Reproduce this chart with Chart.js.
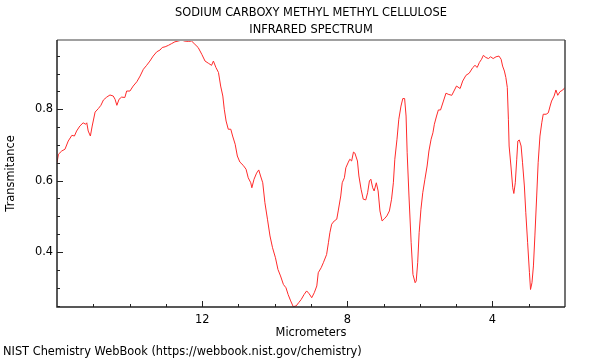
<!DOCTYPE html>
<html>
<head>
<meta charset="utf-8">
<script src="https://cdn.jsdelivr.net/npm/chart.js@4"></script>
<style>
  html, body { margin: 0; padding: 0; background: #fff; }
  #wrap { width: 600px; height: 360px; }
</style>
</head>
<body>
<div id="wrap"><canvas id="irChart" width="600" height="360"></canvas></div>
<script>
// wavelength in micrometers (left to right)
const wavelength = [
  16.00, 15.96, 15.87, 15.78, 15.69, 15.59, 15.52, 15.46, 15.37, 15.28,
  15.21, 15.18, 15.14, 15.08, 15.03, 14.95, 14.86, 14.79, 14.72, 14.63,
  14.54, 14.45, 14.40, 14.35, 14.29, 14.22, 14.13, 14.08, 13.99, 13.90,
  13.80, 13.71, 13.62, 13.53, 13.44, 13.35, 13.25, 13.16, 13.10, 13.02,
  12.93, 12.84, 12.75, 12.66, 12.56, 12.49, 12.38, 12.29, 12.20, 12.11,
  12.01, 11.92, 11.83, 11.74, 11.69, 11.62, 11.55, 11.49, 11.43, 11.39,
  11.34, 11.28, 11.21, 11.16, 11.09, 11.03, 10.96, 10.87, 10.79, 10.73,
  10.66, 10.63, 10.57, 10.50, 10.44, 10.39, 10.33, 10.27, 10.20, 10.13,
  10.06, 9.98, 9.91, 9.84, 9.76, 9.69, 9.63, 9.56, 9.49, 9.41,
  9.34, 9.27, 9.19, 9.12, 9.05, 8.98, 8.91, 8.84, 8.80, 8.72,
  8.66, 8.57, 8.52, 8.48, 8.43, 8.36, 8.29, 8.25, 8.18, 8.14,
  8.08, 8.04, 7.97, 7.93, 7.88, 7.83, 7.79, 7.72, 7.68, 7.62,
  7.56, 7.49, 7.44, 7.39, 7.35, 7.30, 7.26, 7.20, 7.15, 7.10,
  7.04, 6.98, 6.91, 6.84, 6.78, 6.73, 6.69, 6.63, 6.58, 6.52,
  6.47, 6.42, 6.38, 6.35, 6.30, 6.24, 6.19, 6.13, 6.10, 6.06,
  6.02, 5.97, 5.92, 5.86, 5.80, 5.75, 5.69, 5.64, 5.60, 5.54,
  5.49, 5.43, 5.35, 5.28, 5.22, 5.12, 5.06, 4.99, 4.89, 4.82,
  4.73, 4.64, 4.54, 4.48, 4.42, 4.36, 4.30, 4.25, 4.18, 4.11,
  4.05, 3.98, 3.90, 3.82, 3.76, 3.72, 3.67, 3.63, 3.59, 3.56,
  3.54, 3.49, 3.44, 3.41, 3.37, 3.33, 3.30, 3.26, 3.21, 3.17,
  3.12, 3.08, 3.03, 2.98, 2.95, 2.91, 2.87, 2.83, 2.78, 2.74,
  2.69, 2.64, 2.60, 2.52, 2.46, 2.41, 2.37, 2.30, 2.25, 2.20,
  2.14, 2.06, 2.00
];
const transmittance = [
  0.650, 0.674, 0.683, 0.688, 0.711, 0.727, 0.725, 0.739, 0.753, 0.762,
  0.758, 0.762, 0.739, 0.725, 0.753, 0.792, 0.802, 0.811, 0.826, 0.834,
  0.840, 0.837, 0.828, 0.811, 0.828, 0.834, 0.833, 0.851, 0.851, 0.865,
  0.877, 0.893, 0.912, 0.923, 0.935, 0.949, 0.961, 0.966, 0.973, 0.975,
  0.979, 0.984, 0.989, 0.991, 0.994, 0.991, 0.990, 0.991, 0.982, 0.973,
  0.954, 0.935, 0.929, 0.923, 0.935, 0.917, 0.903, 0.865, 0.837, 0.800,
  0.767, 0.744, 0.744, 0.725, 0.702, 0.669, 0.652, 0.643, 0.632, 0.608,
  0.594, 0.580, 0.604, 0.621, 0.630, 0.613, 0.594, 0.538, 0.492, 0.445,
  0.412, 0.384, 0.351, 0.333, 0.309, 0.300, 0.281, 0.263, 0.247, 0.249,
  0.258, 0.267, 0.281, 0.291, 0.283, 0.272, 0.286, 0.305, 0.342, 0.356,
  0.370, 0.393, 0.426, 0.454, 0.478, 0.487, 0.492, 0.515, 0.557, 0.594,
  0.608, 0.636, 0.652, 0.660, 0.655, 0.680, 0.677, 0.655, 0.613, 0.576,
  0.548, 0.546, 0.566, 0.599, 0.604, 0.580, 0.571, 0.594, 0.571, 0.515,
  0.487, 0.493, 0.501, 0.515, 0.548, 0.594, 0.660, 0.716, 0.772, 0.809,
  0.830, 0.830, 0.781, 0.678, 0.557, 0.426, 0.337, 0.314, 0.319, 0.370,
  0.454, 0.520, 0.566, 0.604, 0.641, 0.683, 0.716, 0.734, 0.758, 0.781,
  0.798, 0.798, 0.823, 0.845, 0.842, 0.839, 0.851, 0.865, 0.858, 0.879,
  0.895, 0.901, 0.917, 0.923, 0.917, 0.931, 0.940, 0.951, 0.945, 0.942,
  0.947, 0.942, 0.947, 0.949, 0.940, 0.921, 0.907, 0.889, 0.861, 0.772,
  0.697, 0.641, 0.580, 0.564, 0.594, 0.660, 0.711, 0.714, 0.697, 0.650,
  0.585, 0.510, 0.426, 0.342, 0.295, 0.314, 0.361, 0.445, 0.557, 0.650,
  0.725, 0.762, 0.786, 0.786, 0.790, 0.809, 0.823, 0.837, 0.854, 0.839,
  0.849, 0.854, 0.861
];

const xTicks = [4, 8, 12];
const yTicks = [0.4, 0.6, 0.8];
const titleLines = ['SODIUM CARBOXY METHYL METHYL CELLULOSE', 'INFRARED SPECTRUM'];
const footerText = 'NIST Chemistry WebBook (https://webbook.nist.gov/chemistry)';

const FONT = '"DejaVu Sans", sans-serif';
const FSIZE = 11.4;

// frame, inward ticks, title and footer
const decorations = {
  id: 'decorations',
  afterDraw(chart) {
    const ctx = chart.ctx;
    const a = chart.chartArea;
    const xs = chart.scales.x, ys = chart.scales.y;
    ctx.save();

    ctx.strokeStyle = '#222';
    ctx.lineWidth = 1;
    ctx.beginPath();
    for (let v = 3; v <= 15; v++) {
      const px = Math.round(xs.getPixelForValue(v)) + 0.5;
      const len = (v % 4 === 0) ? 6 : 3;
      ctx.moveTo(px, a.bottom);
      ctx.lineTo(px, a.bottom - len);
    }
    for (let i = 5; i <= 19; i++) {
      const v = i * 0.05;
      const py = Math.round(ys.getPixelForValue(v)) + 0.5;
      const len = (i % 4 === 0) ? 6 : 3;
      ctx.moveTo(a.left, py);
      ctx.lineTo(a.left + len, py);
    }
    ctx.stroke();

    ctx.strokeStyle = '#a0a0a0';
    ctx.lineWidth = 2;
    ctx.beginPath();
    ctx.moveTo(a.left, a.top);
    ctx.lineTo(a.right, a.top);
    ctx.stroke();

    ctx.strokeStyle = '#444';
    ctx.lineWidth = 1.5;
    ctx.beginPath();
    ctx.moveTo(a.right, a.top);
    ctx.lineTo(a.right, a.bottom);
    ctx.stroke();

    ctx.strokeStyle = '#222';
    ctx.beginPath();
    ctx.moveTo(a.left, a.top);
    ctx.lineTo(a.left, a.bottom);
    ctx.lineTo(a.right, a.bottom);
    ctx.stroke();

    ctx.fillStyle = '#000';
    ctx.font = FSIZE + 'px ' + FONT;
    ctx.textAlign = 'center';
    ctx.textBaseline = 'middle';
    const cx = (a.left + a.right) / 2;
    ctx.fillText(titleLines[0], cx, 13);
    ctx.fillText(titleLines[1], cx, 30);

    ctx.textAlign = 'left';
    ctx.fillText(footerText, 3, 352);
    ctx.restore();
  }
};

const points = wavelength.map(function (w, i) { return { x: w, y: transmittance[i] }; });

new Chart(document.getElementById('irChart'), {
  type: 'line',
  data: {
    datasets: [{
      data: points,
      borderColor: '#ff2a2a',
      borderWidth: 1,
      pointRadius: 0,
      tension: 0,
      fill: false
    }]
  },
  options: {
    responsive: false,
    animation: false,
    layout: { padding: { left: 0, right: 35, top: 40, bottom: 0 } },
    plugins: {
      legend: { display: false },
      tooltip: { enabled: false }
    },
    scales: {
      x: {
        type: 'linear',
        reverse: true,
        min: 2,
        max: 16,
        grid: { display: false, drawTicks: false },
        border: { display: false },
        afterBuildTicks: function (s) { s.ticks = xTicks.map(function (v) { return { value: v }; }); },
        afterFit: function (s) { s.height = 53; },
        ticks: { color: '#000', padding: 6, font: { family: FONT, size: FSIZE } },
        title: { display: true, text: 'Micrometers', color: '#000', padding: { top: 0, bottom: 20 }, font: { family: FONT, size: FSIZE } }
      },
      y: {
        min: 0.246,
        max: 0.994,
        grid: { display: false, drawTicks: false },
        border: { display: false },
        afterBuildTicks: function (s) { s.ticks = yTicks.map(function (v) { return { value: v }; }); },
        afterFit: function (s) { s.width = 57; },
        ticks: { color: '#000', padding: 4, font: { family: FONT, size: FSIZE } },
        title: { display: true, text: 'Transmitance', color: '#000', padding: { top: 4, bottom: 0 }, font: { family: FONT, size: FSIZE } }
      }
    }
  },
  plugins: [decorations]
});
</script>
</body>
</html>
